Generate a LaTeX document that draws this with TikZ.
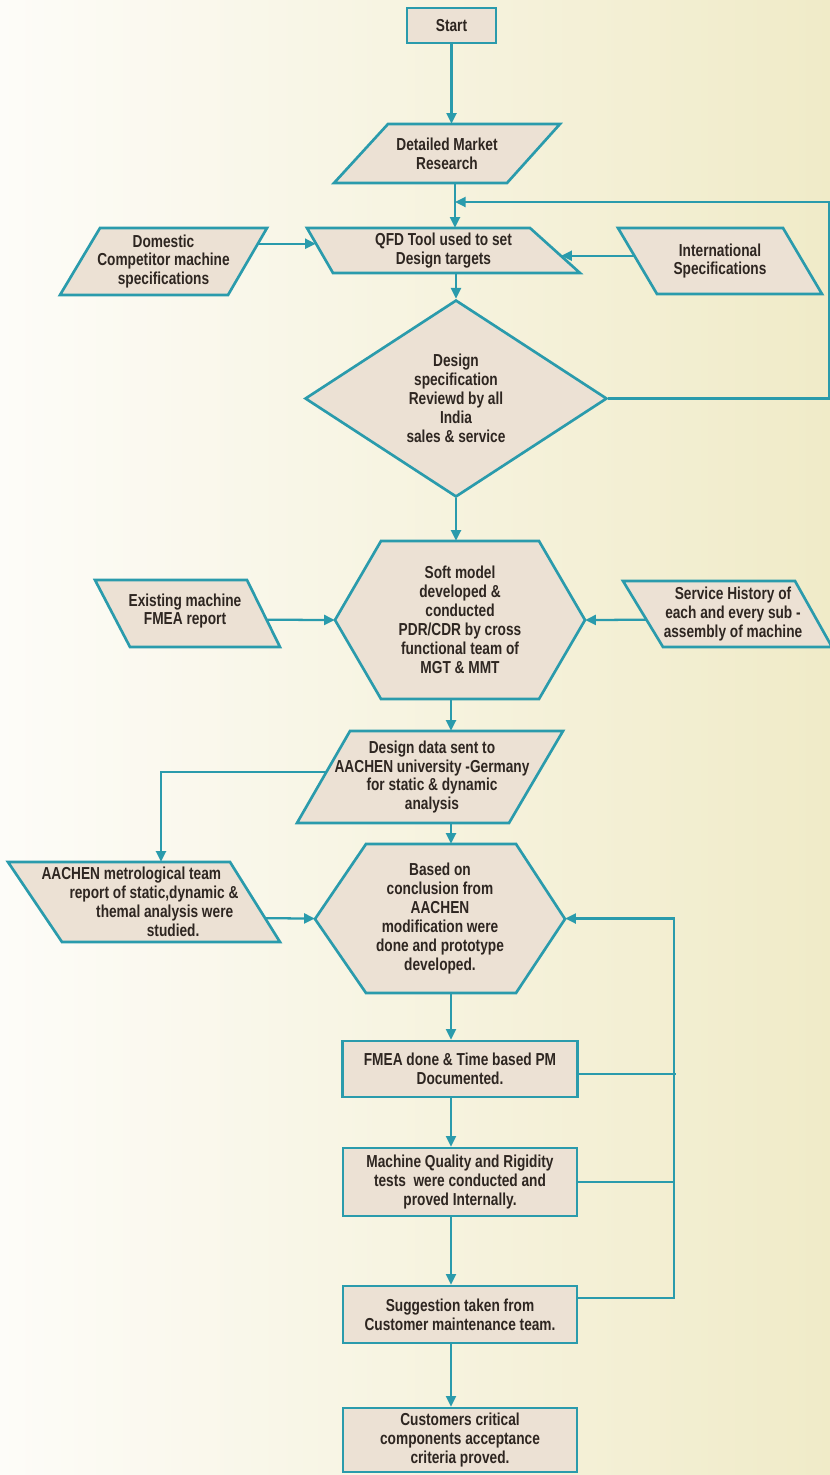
\documentclass[tikz,border=0pt]{standalone}
\usepackage{fontspec}
\setmainfont{Liberation Sans}[FakeStretch=0.79]
\usetikzlibrary{positioning, arrows.meta, calc, shapes.geometric}

\definecolor{edge}{RGB}{42,155,172}
\definecolor{boxfill}{RGB}{236,225,212}
\definecolor{ink}{RGB}{46,38,33}
\definecolor{paperleft}{RGB}{253,252,248}
\definecolor{paperright}{RGB}{240,235,200}

\tikzset{
	txt/.style={font=\bfseries\fontsize{13}{14.2}\selectfont, text=ink, align=center, inner sep=0pt},
	outline/.style={draw=edge, fill=boxfill, line width=2pt},
	dims/.style 2 args={minimum width=#1*0.75pt, minimum height=#2*0.75pt},
	holder/.style 2 args={txt, dims={#1}{#2}},
	block/.style 2 args={txt, outline, rectangle, dims={#1}{#2}},
	flow/.style={draw=edge, line width=1.7pt, -{Triangle[length=8pt, width=7.5pt]}},
	link/.style={draw=edge, line width=1.7pt},
}

\begin{document}
\begin{tikzpicture}[x=0.75pt, y=-0.75pt]
	\useasboundingbox (0,0) rectangle (830,1475);
	\shade[left color=paperleft, right color=paperright] (0,0) rectangle (830,1475);

	\draw[outline] (388,124) -- (560,124) -- (507,183) -- (334,183) -- cycle;
	\draw[outline] (307,228) -- (530,228) -- (580,273) -- (333,273) -- cycle;
	\draw[outline] (100,228) -- (267,228) -- (228,295) -- (60,295) -- cycle;
	\draw[outline] (618,228) -- (783,228) -- (822,294) -- (657,294) -- cycle;
	\draw[outline] (335,620) -- (381,541) -- (539,541) -- (585,620) -- (539,699) -- (381,699) -- cycle;
	\draw[outline] (95,580) -- (247,580) -- (280,647) -- (130,647) -- cycle;
	\draw[outline] (623,581) -- (795,581) -- (832,647) -- (663,647) -- cycle;
	\draw[outline] (350,731) -- (563,731) -- (509,823) -- (297,823) -- cycle;
	\draw[outline] (8,862) -- (230,862) -- (280,942) -- (62,942) -- cycle;
	\draw[outline] (315,919) -- (366,844) -- (516,844) -- (565,919) -- (516,993) -- (366,993) -- cycle;

	\node[block={89}{35}] (start) at (451.5,25.5) {Start};
	\node[holder={226}{59}] (dmr) at (447,153.5) {Detailed Market\\Research};
	\node[holder={273}{45}] (qfd) at (443.5,250.5) {QFD Tool used to set\\Design targets};
	\node[holder={207}{67}] (dom) at (163.5,261.5) {Domestic\\Competitor machine\\specifications};
	\node[holder={204}{66}] (intl) at (720,261) {International\\Specifications};
	\node[txt, outline, diamond, aspect=1.53, dims={302}{197}] (dia) at (456,398.5)
		{Design\\specification\\Reviewd by all\\India\\sales \& service};
	\node[holder={250}{158}] (soft) at (460,620)
		{Soft model\\developed \&\\conducted\\PDR/CDR by cross\\functional team of\\MGT \& MMT};
	\node[holder={185}{67}] (exist) at (185,611) {Existing machine\\FMEA report};
	\node[holder={209}{66}] (svc) at (733,614) {Service History of\\each and every sub -\\assembly of machine};
	\node[holder={266}{92}] (dds) at (432,777)
		{Design data sent to\\AACHEN university -Germany\\for static \& dynamic\\analysis};
	\node[holder={272}{80}, align=left] (aam) at (140,902)
		{AACHEN metrological team\\\hspace*{21pt}report of static,dynamic \&\\\hspace*{41pt}themal analysis were\\\hspace*{79pt}studied.};
	\node[holder={250}{149}] (based) at (440,918.5)
		{Based on\\conclusion from\\AACHEN\\modification were\\done and prototype\\developed.};
	\node[block={235}{56}] (fmea) at (460,1069) {FMEA done \& Time based PM\\Documented.};
	\node[block={234}{68}] (mq) at (460,1182) {Machine Quality and Rigidity\\tests\ \ were conducted and\\proved Internally.};
	\node[block={234}{57}] (sug) at (460,1314.5) {Suggestion taken from\\Customer maintenance team.};
	\node[block={234}{64}] (cust) at (460,1440) {Customers critical\\components acceptance\\criteria proved.};

	\coordinate (qfdin) at (455,202);
	\coordinate (axis) at (451,0);
	\coordinate (rail) at (674,0);

	\draw[flow] (start) -- (start |- dmr.north);
	\draw[flow] (dmr.south -| qfdin) -- (qfd.north -| qfdin);
	\draw[flow] (qfd.south -| dia) -- (dia);
	\draw[flow] (dia) -- (dia |- soft.north);
	\draw[flow] (dia.east) -- ++(221,0) |- (qfdin);
	\draw[flow] ($(dom.north east)+(-9,16)$) -- ($(qfd.north west)+(9,16)$);
	\draw[flow] ($(intl.north west)+(16.5,28)$) -- ($(qfd.north east)+(-19,28)$);
	\draw[flow] ($(exist.north east)+(-10.3,42.5)$) -- (soft.west);
	\draw[flow] ($(svc.north west)+(18.1,39)$) -- (soft.east);
	\draw[flow] (soft.south -| axis) -- (dds.north -| axis);
	\draw[flow] ($(dds.north west)+(27.4,41)$) -| ($(aam.north)+(21,0)$);
	\draw[flow] ($(aam.north east)+(-10.7,56.5)$) -- (based.west);
	\draw[flow] (dds.south -| axis) -- (based.north -| axis);
	\draw[flow] (based.south -| axis) -- (fmea.north -| axis);
	\draw[flow] (fmea.south -| axis) -- (mq.north -| axis);
	\draw[flow] (mq.south -| axis) -- (sug.north -| axis);
	\draw[flow] (sug.south -| axis) -- (cust.north -| axis);
	\draw[flow] ($(sug.east)+(0,-16.5)$) -| (rail |- based.east) -- (based.east);
	\draw[link] ($(fmea.east)+(0,5)$) -- ++(97,0);
	\draw[link] (mq.east) -- (mq.east -| rail);
\end{tikzpicture}
\end{document}
